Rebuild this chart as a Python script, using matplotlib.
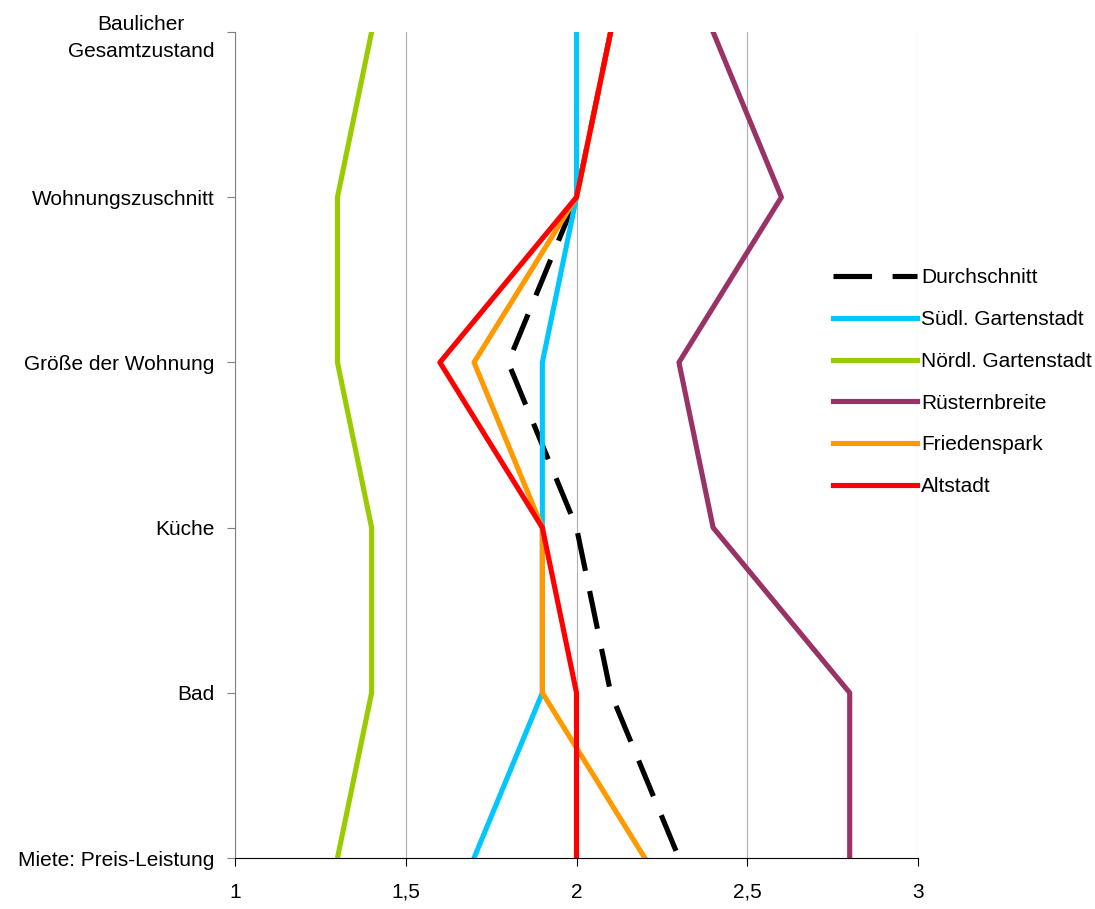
import numpy as np
import matplotlib.pyplot as plt

plt.rcParams['font.family'] = ['Liberation Sans', 'DejaVu Sans']

categories = ['Baulicher\nGesamtzustand', 'Wohnungszuschnitt', 'Größe der Wohnung',
              'Küche', 'Bad', 'Miete: Preis-Leistung']

durchschnitt = [2.1, 2.0, 1.8, 2.0, 2.1, 2.3]
suedl = [2.0, 2.0, 1.9, 1.9, 1.9, 1.7]
noerdl = [1.4, 1.3, 1.3, 1.4, 1.4, 1.3]
ruestern = [2.4, 2.6, 2.3, 2.4, 2.8, 2.8]
friedenspark = [2.1, 2.0, 1.7, 1.9, 1.9, 2.2]
altstadt = [2.1, 2.0, 1.6, 1.9, 2.0, 2.0]

x_ticks = [1, 1.5, 2, 2.5, 3]
x_labels = ['1', '1,5', '2', '2,5', '3']

fig = plt.figure(figsize=(10.95, 9.09), dpi=100)
ax = fig.add_axes([235 / 1095, 1 - 858 / 909, (918 - 235) / 1095, (858 - 32) / 909])

y = np.arange(len(categories))[::-1]
lw = 3.7

ax.plot(durchschnitt, y, color='black', lw=lw, ls=(0, (7.5, 4)), label='Durchschnitt', zorder=3)
ax.plot(suedl, y, color='#00c8ff', lw=lw, label='Südl. Gartenstadt', zorder=3)
ax.plot(noerdl, y, color='#99cc00', lw=lw, label='Nördl. Gartenstadt', zorder=3)
ax.plot(ruestern, y, color='#993366', lw=lw, label='Rüsternbreite', zorder=3)
ax.plot(friedenspark, y, color='#ff9900', lw=lw, label='Friedenspark', zorder=3)
ax.plot(altstadt, y, color='#ff0000', lw=lw, label='Altstadt', zorder=3)

ax.set_xlim(1, 3)
ax.set_ylim(0, len(categories) - 1)
ax.set_xticks(x_ticks)
ax.set_xticklabels(x_labels, fontsize=15)
ax.set_yticks(y)
ax.set_yticklabels(categories, fontsize=15, ha='right', multialignment='center',
                   linespacing=1.55)

ax.grid(axis='x', color='#b0b0b0', lw=0.8)
ax.set_axisbelow(True)
for s in ['top', 'right']:
    ax.spines[s].set_visible(False)
ax.spines['left'].set_color('#808080')
ax.spines['bottom'].set_color('black')
ax.spines['bottom'].set_zorder(4)
ax.tick_params(axis='x', length=6, pad=12, colors='black')
ax.tick_params(axis='y', length=6, pad=9, color='#808080')

leg = ax.legend(loc='center left', bbox_to_anchor=(0.876, 0.576), frameon=False,
                fontsize=15, handlelength=4.0, handletextpad=0.2, labelspacing=1.09,
                borderaxespad=0, borderpad=0)

fig.savefig('out.png', dpi=100)
